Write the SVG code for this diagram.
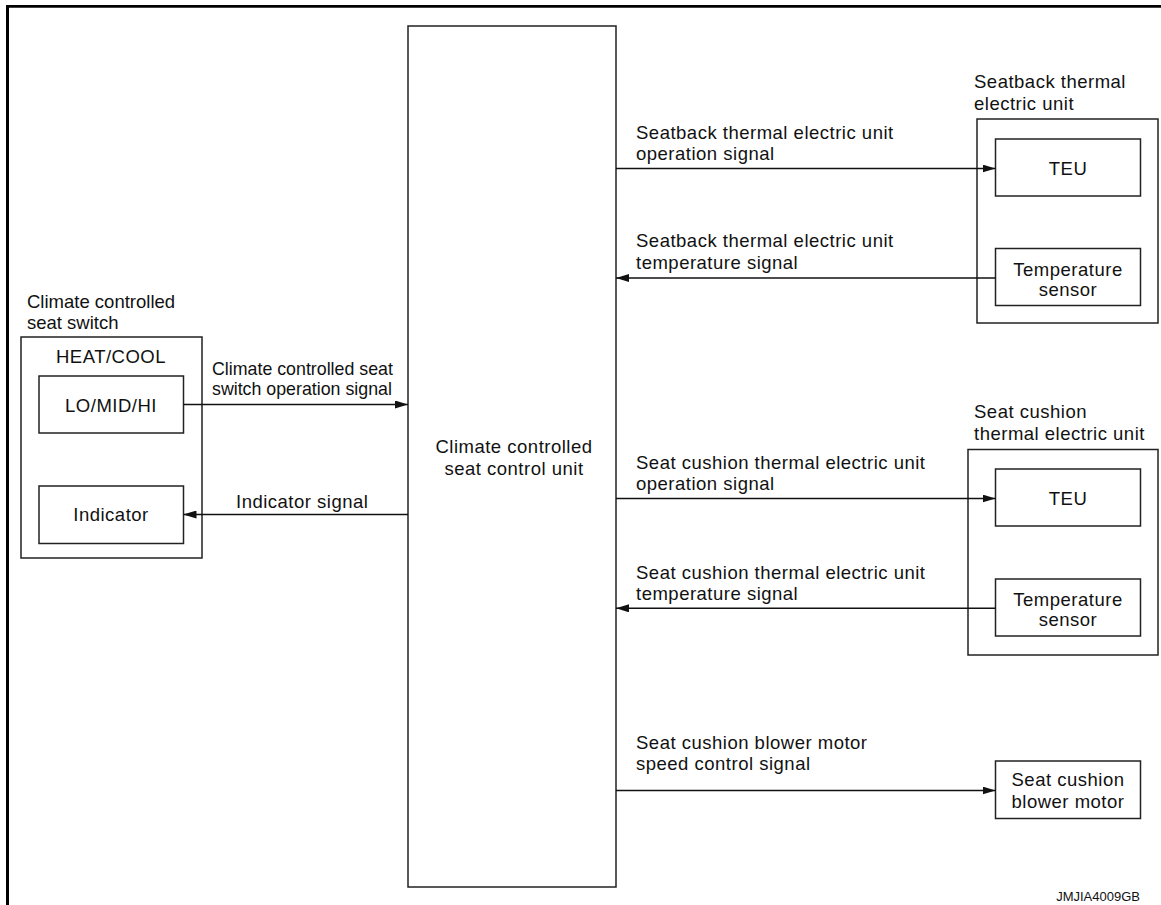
<svg xmlns="http://www.w3.org/2000/svg" width="1161" height="905" viewBox="0 0 1161 905">
<style>
text{font-family:"Liberation Sans",Arial,Helvetica,sans-serif;font-size:18.5px;fill:#111;letter-spacing:0.5px}
.c{text-anchor:middle}
.sm{font-size:17.8px;letter-spacing:0}
.ls0{letter-spacing:0}
.box{fill:#fff;stroke:#222;stroke-width:1.5}
.outer{fill:none;stroke:#222;stroke-width:1.5}
.wire{stroke:#111;stroke-width:1.4;fill:none}
.frame{stroke:#000;fill:none}
.code{font-size:13px;letter-spacing:0}
</style>
<defs>
<marker id="ah" viewBox="0 0 13 8" refX="13" refY="4" markerWidth="13" markerHeight="8" markerUnits="userSpaceOnUse" orient="auto">
<path d="M0,0 L13,4 L0,8 z" fill="#111"/>
</marker>
</defs>
<g id="frame">
<line class="frame" x1="6" y1="6.3" x2="1161" y2="6.3" stroke-width="2.8"/>
<line class="frame" x1="7.5" y1="5" x2="7.5" y2="905" stroke-width="3"/>
</g>
<g id="control-unit">
<rect class="box" x="408" y="26" width="208" height="861"/>
<text class="c" x="514" y="453">Climate controlled</text>
<text class="c" x="514" y="475">seat control unit</text>
</g>
<g id="seat-switch">
<text class="ls0" x="27" y="308">Climate controlled</text>
<text class="ls0" x="27" y="329">seat switch</text>
<rect class="outer" x="21" y="337" width="181" height="221"/>
<text class="c" x="111" y="363">HEAT/COOL</text>
</g>
<g id="lo-mid-hi">
<rect class="box" x="39" y="376" width="144.5" height="57"/>
<text class="c" x="111" y="412">LO/MID/HI</text>
</g>
<g id="indicator">
<rect class="box" x="39" y="486" width="144.5" height="57.5"/>
<text class="c" x="111" y="521">Indicator</text>
</g>
<g id="seatback-teu-unit">
<text x="974" y="88">Seatback thermal</text>
<text x="974" y="109.5">electric unit</text>
<rect class="outer" x="977" y="119" width="181" height="204"/>
</g>
<g id="seatback-teu">
<rect class="box" x="995.5" y="139" width="145" height="57"/>
<text class="c" x="1068" y="174.5">TEU</text>
</g>
<g id="seatback-temp-sensor">
<rect class="box" x="995.5" y="248.5" width="145" height="57"/>
<text class="c" x="1068" y="275.5">Temperature</text>
<text class="c" x="1068" y="296">sensor</text>
</g>
<g id="cushion-teu-unit">
<text x="974" y="418">Seat cushion</text>
<text x="974" y="439.5">thermal electric unit</text>
<rect class="outer" x="968" y="449.5" width="190" height="205.5"/>
</g>
<g id="cushion-teu">
<rect class="box" x="995.5" y="469" width="145" height="57"/>
<text class="c" x="1068" y="504.5">TEU</text>
</g>
<g id="cushion-temp-sensor">
<rect class="box" x="995.5" y="579" width="145" height="57"/>
<text class="c" x="1068" y="605.5">Temperature</text>
<text class="c" x="1068" y="626">sensor</text>
</g>
<g id="blower-motor">
<rect class="box" x="995.5" y="761" width="145" height="57.5"/>
<text class="c" x="1068" y="785.5">Seat cushion</text>
<text class="c" x="1068" y="807.5">blower motor</text>
</g>
<g id="connectors">
<line class="wire" x1="183.5" y1="404.5" x2="408" y2="404.5" marker-end="url(#ah)"/>
<line class="wire" x1="408" y1="514.5" x2="183.5" y2="514.5" marker-end="url(#ah)"/>
<line class="wire" x1="616" y1="168.5" x2="995.5" y2="168.5" marker-end="url(#ah)"/>
<line class="wire" x1="995.5" y1="278" x2="616" y2="278" marker-end="url(#ah)"/>
<line class="wire" x1="616" y1="498.5" x2="995.5" y2="498.5" marker-end="url(#ah)"/>
<line class="wire" x1="995.5" y1="608.3" x2="616" y2="608.3" marker-end="url(#ah)"/>
<line class="wire" x1="616" y1="790.5" x2="995.5" y2="790.5" marker-end="url(#ah)"/>
<text class="sm" x="212" y="375">Climate controlled seat</text>
<text class="sm" x="212" y="395">switch operation signal</text>
<text x="236" y="508">Indicator signal</text>
<text x="636" y="138.5">Seatback thermal electric unit</text>
<text x="636" y="160">operation signal</text>
<text x="636" y="247">Seatback thermal electric unit</text>
<text x="636" y="269">temperature signal</text>
<text x="636" y="468.5">Seat cushion thermal electric unit</text>
<text x="636" y="490">operation signal</text>
<text x="636" y="578.5">Seat cushion thermal electric unit</text>
<text x="636" y="600">temperature signal</text>
<text x="636" y="748.5">Seat cushion blower motor</text>
<text x="636" y="770">speed control signal</text>
</g>
<text class="code" x="1140" y="901" text-anchor="end">JMJIA4009GB</text>
</svg>
